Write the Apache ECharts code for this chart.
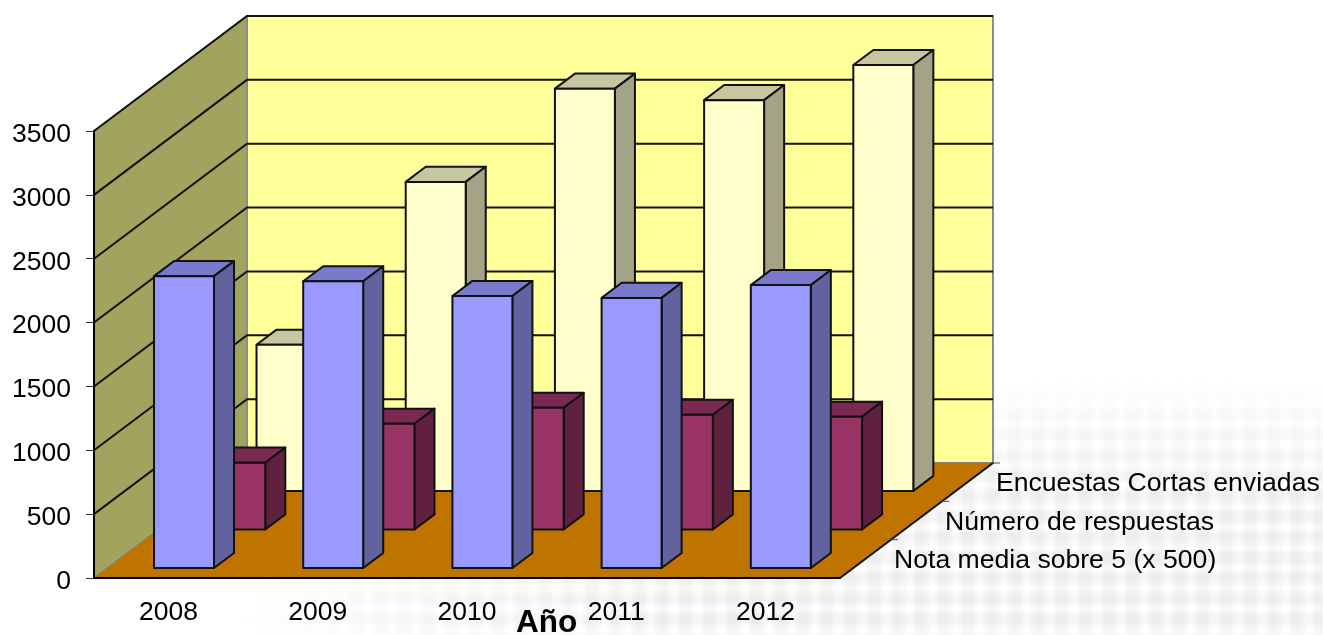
<!DOCTYPE html>
<html><head><meta charset="utf-8">
<style>
html,body{margin:0;padding:0;background:#fff;width:1323px;height:635px;overflow:hidden}
#tex{position:absolute;left:0;top:0;width:1323px;height:635px;filter:blur(1.5px);
background-image:repeating-linear-gradient(to right,rgba(0,0,0,.035) 0,rgba(0,0,0,.035) 9px,rgba(0,0,0,0) 14px,rgba(0,0,0,0) 19px,rgba(0,0,0,.035) 23.5px),
repeating-linear-gradient(to bottom,rgba(0,0,0,.035) 0,rgba(0,0,0,.035) 8px,rgba(0,0,0,0) 12px,rgba(0,0,0,0) 17px,rgba(0,0,0,.035) 20.5px);
-webkit-mask-image:radial-gradient(ellipse 900px 265px at 1130px 640px,#000 0,#000 55%,rgba(0,0,0,.45) 85%,transparent 100%);
mask-image:radial-gradient(ellipse 900px 265px at 1130px 640px,#000 0,#000 55%,rgba(0,0,0,.45) 85%,transparent 100%);}
#c{position:absolute;left:0;top:0;width:1323px;height:635px}
</style></head><body>
<div id="tex"></div><div id="c"></div>
<script src="https://cdn.jsdelivr.net/npm/echarts@6/dist/echarts.min.js"></script>
<script>
const years = ['2008','2009','2010','2011','2012'];
const seriesNames = ['Nota media sobre 5 (x 500)','Número de respuestas','Encuestas Cortas enviadas'];
const notaMedia = [2285,2245,2130,2115,2215];
const respuestas = [523,828,953,898,883];
const encuestas = [1145,2420,3150,3060,3335];
const yTicks = [0,500,1000,1500,2000,2500,3000,3500];
const yMax = 3500;

const FONT = '"Liberation Sans", Arial, sans-serif';
const DX = 153, DY = -115;            // depth vector of the 3D box
const BAR_W = 0.402, BAR_L = 0.313;   // share of a category band
const ROW_F = [0.087,0.422,0.757], BAR_D = 0.131;
const faces = [
 {front:'#9999FF',side:'#62629F',top:'#7A7ACC'},
 {front:'#993366',side:'#602040',top:'#7A2952'},
 {front:'#FFFFCC',side:'#A3A385',top:'#C6C69F'}
];
const EDGE = {stroke:'#111',lineWidth:2,lineJoin:'round'};

function shift(p,f){return [p[0]+DX*f,p[1]+DY*f];}
function poly(points,fill,stroke){
  return {type:'polygon',shape:{points},style:Object.assign({fill},stroke||{})};
}
function barSeries(row,values){
  return {
    type:'custom',name:seriesNames[row],z:3+(2-row),
    data:values.map((v,i)=>[i,v]),encode:{x:0,y:1},
    renderItem(params,api){
      const cat=api.value(0),val=api.value(1);
      const band=api.size([1,0])[0];
      const mid=api.coord([cat,0]), topP=api.coord([cat,val]);
      const left=mid[0]-band/2+band*BAR_L, w=band*BAR_W;
      const base=[left,mid[1]], top=[left,topP[1]];
      const a=shift(base,ROW_F[row]), b=[a[0]+w,a[1]];
      const c=shift(top,ROW_F[row]), d=[c[0]+w,c[1]];
      const b2=shift(b,BAR_D), d2=shift(d,BAR_D), c2=shift(c,BAR_D);
      const f=faces[row];
      return {type:'group',children:[
        poly([c,d,d2,c2],f.top,EDGE),
        poly([b,d,d2,b2],f.side,EDGE),
        poly([a,b,d,c],f.front,EDGE)
      ]};
    }
  };
}
const wallSeries={
  type:'custom',z:2,silent:true,
  data:[[0,0]],encode:{x:0,y:1},
  renderItem(params,api){
    const band=api.size([1,0])[0];
    const first=api.coord([0,0]);
    const o=[first[0]-band/2,first[1]];
    const r=[o[0]+band*years.length,o[1]];
    const t=[o[0],api.coord([0,yMax])[1]];
    const tr=[r[0],t[1]];
    const grey={stroke:'#8c8c8c',lineWidth:2};
    const kids=[
      poly([o,t,shift(t,1),shift(o,1)],'#A3A360',{stroke:'#8c8c70',lineWidth:1.5}),
      poly([shift(o,1),shift(t,1),shift(tr,1),shift(r,1)],'#FFFF99',grey),
      poly([o,r,shift(r,1),shift(o,1)],'#C07400',{stroke:'#8c7a50',lineWidth:1})
    ];
    yTicks.forEach(v=>{
      if(v===0) return;
      const y=api.coord([0,v])[1];
      const pA=[o[0],y],pB=shift(pA,1),pC=[pB[0]+(r[0]-o[0]),pB[1]];
      kids.push({type:'polyline',shape:{points:[pA,pB,pC]},style:{fill:null,stroke:'#111',lineWidth:2}});
    });
    kids.push({type:'line',shape:{x1:r[0],y1:r[1],x2:r[0]+DX,y2:r[1]+DY},style:{stroke:'#111',lineWidth:2}});
    [1/3,2/3,1].forEach(f=>{
      const p=shift(r,f);
      kids.push({type:'line',shape:{x1:p[0],y1:p[1],x2:p[0]+7,y2:p[1]},style:{stroke:'#555',lineWidth:1}});
    });
    seriesNames.forEach((n,i)=>{
      const p=shift(r,(i+1)/3);
      kids.push({type:'text',x:p[0]+3,y:p[1]+21,style:{text:n,fill:'#000',font:'26.6px '+FONT,textAlign:'left',textVerticalAlign:'middle'}});
    });
    return {type:'group',children:kids};
  }
};
const chart=echarts.init(document.getElementById('c'),null,{renderer:'canvas'});
chart.setOption({
  animation:false,
  backgroundColor:'transparent',
  title:{text:'Año',left:516,top:607,padding:0,textStyle:{fontFamily:FONT,fontSize:31.5,fontWeight:'bold',color:'#000'}},
  grid:{left:94,top:131,width:746,height:447,containLabel:false},
  xAxis:{type:'category',data:years,z:10,boundaryGap:true,
    axisLine:{lineStyle:{color:'#000',width:2}},
    axisTick:{length:7,lineStyle:{color:'#444',width:1}},
    axisLabel:{color:'#000',fontFamily:FONT,fontSize:26.5,margin:21}},
  yAxis:{type:'value',min:0,max:yMax,interval:500,z:10,
    axisLine:{show:true,lineStyle:{color:'#000',width:2}},
    axisTick:{show:true,length:8,lineStyle:{color:'#333',width:1}},
    axisLabel:{color:'#000',fontFamily:FONT,fontSize:26.5,margin:23,verticalAlign:'top',lineHeight:7,formatter:v=>String(v)},
    splitLine:{show:false}},
  series:[wallSeries,barSeries(2,encuestas),barSeries(1,respuestas),barSeries(0,notaMedia)]
});
</script>
</body></html>
